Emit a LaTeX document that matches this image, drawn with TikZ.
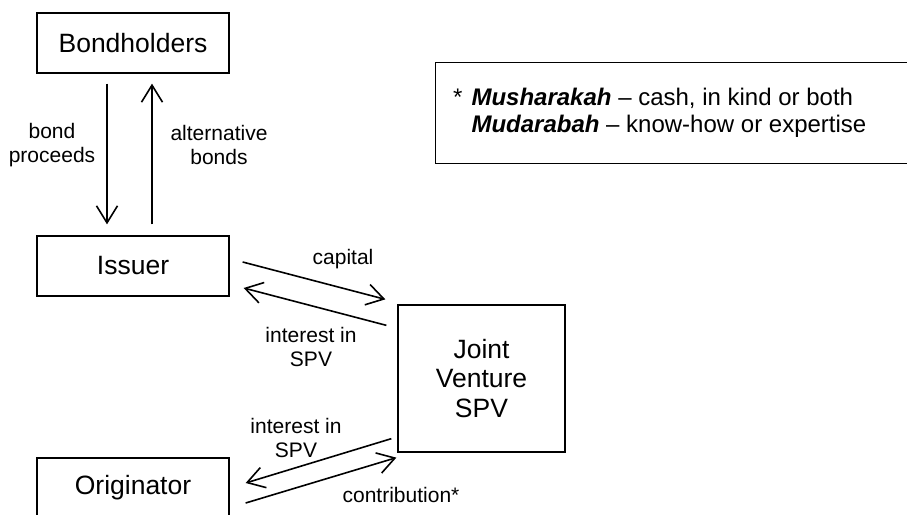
\documentclass[tikz,border=0pt]{standalone}
\usepackage{fontspec}
\setmainfont{Liberation Sans}
\usetikzlibrary{arrows.meta}

\begin{document}
\begin{tikzpicture}[x=1pt, y=-1pt,
  party/.style={draw, line width=1.3pt, minimum width=192pt, minimum height=60pt,
                inner sep=0pt, font=\fontsize{26.5}{29.5}\selectfont, align=center},
  flow/.style={line width=1.6pt, -{Straight Barb[length=17pt, width=21pt, line width=1.6pt]}},
  lbl/.style={font=\fontsize{21}{24}\selectfont, align=center, inner sep=0pt}]

  \useasboundingbox (0,0) rectangle (907,514);
  \clip (0,0) rectangle (907,514);

  % parties
  \node[party] (bond)   at (133,43)  {Bondholders};
  \node[party] (issuer) at (133,266) {Issuer};
  \node[party] (orig)   at (133,488) {Originator};
  \node[party, minimum width=167pt, minimum height=147pt] (jv) at (481.5,378.5)
       {Joint\\Venture\\SPV};

  % footnote box
  \node[draw, line width=1.3pt, minimum width=480pt, minimum height=101pt,
        anchor=north west, inner sep=0pt] (note) at (435,62) {};
  \node[anchor=west, inner sep=0pt, font=\fontsize{24}{27}\selectfont] (notetxt) at (453,113.5)
    {\begin{tabular}{@{}l@{\hspace{9pt}}l@{}}
      * & \textbf{\textit{Musharakah}} – cash, in kind or both\\
        & \textbf{\textit{Mudarabah}} – know-how or expertise
     \end{tabular}};

  % Bondholders <-> Issuer
  \draw[flow] ([xshift=-26pt,yshift=-10pt]bond.south) -- ([xshift=-26pt,yshift=11pt]issuer.north);
  \draw[flow] ([xshift=19pt,yshift=11pt]issuer.north) -- ([xshift=19pt,yshift=-10pt]bond.south);
  \node[lbl] (lproceeds) at (52,145)  {bond\\proceeds};
  \node[lbl] (lalt)      at (219,145) {alternative\\bonds};

  % Issuer <-> Joint Venture
  \draw[flow] ([xshift=13pt,yshift=4pt]issuer.east) -- ([xshift=-12pt,yshift=5pt]jv.north west);
  \draw[flow] ([xshift=-11pt,yshift=-21pt]jv.north west) -- ([xshift=14pt,yshift=-22pt]issuer.east);
  \node[lbl] (lcapital) at (343,259) {capital};
  \node[lbl] (lint1)    at (311,347) {interest in\\SPV};

  % Originator <-> Joint Venture
  \draw[flow] ([xshift=-6pt,yshift=14pt]jv.south west) -- ([xshift=16pt,yshift=5pt]orig.east);
  \draw[flow] ([xshift=16pt,yshift=-15pt]orig.east) -- ([xshift=-1pt,yshift=-5pt]jv.south west);
  \node[lbl] (lint2)    at (296,438) {interest in\\SPV};
  \node[lbl] (lcontrib) at (401,495) {contribution*};
\end{tikzpicture}
\end{document}
